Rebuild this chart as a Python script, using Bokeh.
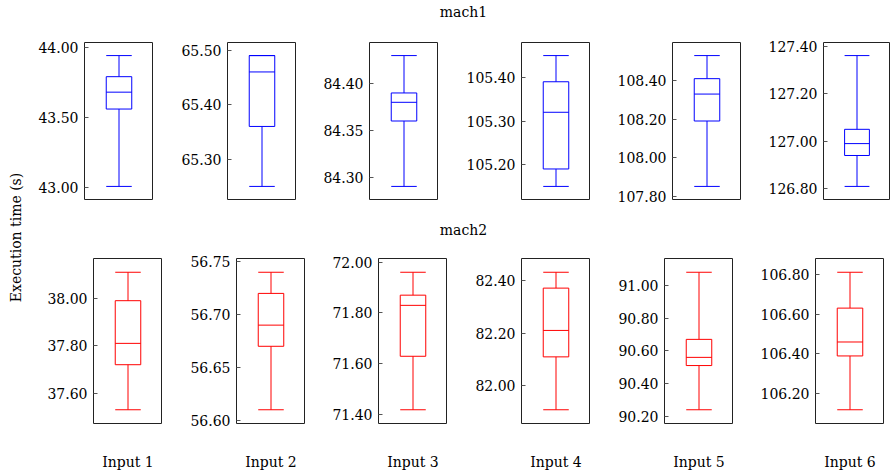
from bokeh.plotting import figure
from bokeh.layouts import row, column
from bokeh.models import (Range1d, FactorRange, FixedTicker, PrintfTickFormatter,
                          ColumnDataSource, Title, Spacer)
from bokeh.transform import dodge
from bokeh.embed import file_html
from bokeh.resources import INLINE

# ---------------- data ----------------
inputs = ["Input 1", "Input 2", "Input 3", "Input 4", "Input 5", "Input 6"]
machines = ["mach1", "mach2"]
y_label = "Execution time (s)"

mach1_lower = [43.01, 65.25, 84.29, 105.15, 107.85, 126.81]
mach1_q1 = [43.56, 65.36, 84.36, 105.19, 108.19, 126.94]
mach1_median = [43.68, 65.46, 84.38, 105.32, 108.33, 126.99]
mach1_q3 = [43.79, 65.49, 84.39, 105.39, 108.41, 127.05]
mach1_upper = [43.94, 65.49, 84.43, 105.45, 108.53, 127.36]

mach2_lower = [37.53, 56.61, 71.42, 81.91, 90.24, 106.12]
mach2_q1 = [37.72, 56.67, 71.63, 82.11, 90.51, 106.39]
mach2_median = [37.81, 56.69, 71.83, 82.21, 90.56, 106.46]
mach2_q3 = [37.99, 56.72, 71.87, 82.37, 90.67, 106.63]
mach2_upper = [38.11, 56.74, 71.96, 82.43, 91.08, 106.81]

mach1_ticks = [[43.0, 43.5, 44.0], [65.3, 65.4, 65.5], [84.30, 84.35, 84.40],
               [105.2, 105.3, 105.4], [107.8, 108.0, 108.2, 108.4],
               [126.8, 127.0, 127.2, 127.4]]
mach2_ticks = [[37.6, 37.8, 38.0], [56.60, 56.65, 56.70, 56.75],
               [71.4, 71.6, 71.8, 72.0], [82.0, 82.2, 82.4],
               [90.2, 90.4, 90.6, 90.8, 91.0], [106.2, 106.4, 106.6, 106.8]]

# ---------------- style / layout ----------------
FONT = "DejaVu Serif"
FS = "14px"
BOX_W = 0.37
FRAME_W, FRAME_H = 69, 165
PAGE_X0, PAGE_Y0, PAGE_RIGHT = 0, 0, 890
YLAB_W = 30
TOP_PAD = 1
H_HEAD1, H_TOP, H_HEAD2, H_BOT = 22, 196, 22, 233
TOTAL_H = TOP_PAD + H_HEAD1 + H_TOP + H_HEAD2 + H_BOT

top_frame_left = [84, 227, 369, 521, 672, 823]
top_frame_top = [42, 42, 42, 42, 34, 42]
bot_frame_left = [93, 236, 378, 521, 664, 815]
bot_frame_top = [258, 258, 258, 258, 258, 258]

COLORS = {"mach1": "#0000ff", "mach2": "#ff0000"}
FRAME_COLOR = "#222222"


def panel(factor, lo, q1, med, q3, hi, ticks, color, x_start, frame_left,
          y_start, frame_top, fig_h, show_x):
    fw = min(FRAME_W, PAGE_RIGHT - frame_left)
    left = frame_left - x_start
    top = frame_top - y_start
    bottom = fig_h - top - FRAME_H
    pad = 0.1 * (hi - lo)
    p = figure(x_range=FactorRange(factors=[factor], range_padding=0),
               y_range=Range1d(lo - pad, hi + pad),
               width=left + fw, height=fig_h, title=None,
               toolbar_location=None, output_backend="svg",
               min_border_left=left, min_border_right=0,
               min_border_top=top, min_border_bottom=bottom,
               x_axis_location="below" if show_x else None)
    p.grid.visible = False
    p.outline_line_color = FRAME_COLOR
    p.outline_line_width = 1
    p.background_fill_color = "white"
    p.border_fill_color = "white"

    src = ColumnDataSource(dict(x=[factor], lo=[lo], q1=[q1], med=[med],
                                q3=[q3], hi=[hi]))
    # whisker stems
    p.segment(x0="x", y0="q3", x1="x", y1="hi", source=src, line_color=color, line_width=1)
    p.segment(x0="x", y0="lo", x1="x", y1="q1", source=src, line_color=color, line_width=1)
    # caps
    xl = dodge("x", -BOX_W / 2, range=p.x_range)
    xr = dodge("x", BOX_W / 2, range=p.x_range)
    p.segment(x0=xl, y0="hi", x1=xr, y1="hi", source=src, line_color=color, line_width=1)
    p.segment(x0=xl, y0="lo", x1=xr, y1="lo", source=src, line_color=color, line_width=1)
    # box
    p.vbar(x="x", width=BOX_W, bottom="q1", top="q3", source=src,
           fill_color=None, line_color=color, line_width=1)
    # median
    p.segment(x0=xl, y0="med", x1=xr, y1="med", source=src, line_color=color, line_width=1)

    ya = p.yaxis[0]
    ya.ticker = FixedTicker(ticks=ticks, minor_ticks=[])
    ya.formatter = PrintfTickFormatter(format="%.2f")
    ya.axis_line_color = None
    ya.major_tick_in = 4
    ya.major_tick_out = 0
    ya.major_tick_line_color = "#555555"
    ya.minor_tick_line_color = None
    ya.major_label_standoff = 6
    ya.major_label_text_font = FONT
    ya.major_label_text_font_size = FS
    ya.major_label_text_color = "black"

    if show_x:
        xa = p.xaxis[0]
        xa.axis_line_color = None
        xa.major_tick_line_color = None
        xa.minor_tick_line_color = None
        xa.major_tick_in = 0
        xa.major_tick_out = 0
        xa.major_label_standoff = 30
        xa.major_label_text_font = FONT
        xa.major_label_text_font_size = FS
        xa.major_label_text_color = "black"
    return p, frame_left + fw


def header(text, h):
    hf = figure(width=PAGE_RIGHT - PAGE_X0 - YLAB_W, height=h,
                x_range=Range1d(0, 1), y_range=Range1d(0, 1),
                toolbar_location=None, output_backend="svg",
                x_axis_location=None, y_axis_location=None,
                min_border_left=6, min_border_right=0,
                min_border_top=0, min_border_bottom=0,
                title=Title(text=text, align="center", text_font=FONT,
                            text_font_size=FS, text_font_style="normal",
                            text_color="black", standoff=0))
    hf.outline_line_color = None
    hf.grid.visible = False
    return hf


# ----- top row -----
x_start = PAGE_X0 + YLAB_W
y_top = PAGE_Y0 + TOP_PAD + H_HEAD1
top_figs = []
for i, f in enumerate(inputs):
    p, x_start = panel(f, mach1_lower[i], mach1_q1[i], mach1_median[i], mach1_q3[i],
                       mach1_upper[i], mach1_ticks[i], COLORS["mach1"], x_start,
                       top_frame_left[i], y_top, top_frame_top[i], H_TOP, False)
    top_figs.append(p)

# ----- bottom row -----
x_start = PAGE_X0 + YLAB_W
y_bot = PAGE_Y0 + TOP_PAD + H_HEAD1 + H_TOP + H_HEAD2
bot_figs = []
for i, f in enumerate(inputs):
    p, x_start = panel(f, mach2_lower[i], mach2_q1[i], mach2_median[i], mach2_q3[i],
                       mach2_upper[i], mach2_ticks[i], COLORS["mach2"], x_start,
                       bot_frame_left[i], y_bot, bot_frame_top[i], H_BOT, True)
    bot_figs.append(p)

# ----- y label figure -----
yl = figure(width=YLAB_W, height=TOTAL_H, x_range=Range1d(0, 1), y_range=Range1d(0, 1),
            toolbar_location=None, output_backend="svg", title=None,
            x_axis_location=None, min_border_left=23, min_border_right=0,
            min_border_top=0, min_border_bottom=0)
yl.outline_line_color = None
yl.grid.visible = False
ax = yl.yaxis[0]
ax.ticker = FixedTicker(ticks=[])
ax.axis_line_color = None
ax.major_tick_line_color = None
ax.minor_tick_line_color = None
ax.major_tick_out = 0
ax.major_tick_in = 0
ax.major_label_standoff = 0
ax.axis_label = y_label
ax.axis_label_standoff = 0
ax.axis_label_text_font = FONT
ax.axis_label_text_font_size = FS
ax.axis_label_text_font_style = "normal"
ax.axis_label_text_color = "black"

h1 = header(machines[0], H_HEAD1)
h2 = header(machines[1], H_HEAD2)

layout = row(yl, column(Spacer(width=10, height=TOP_PAD), h1,
                        row(*top_figs, spacing=0), h2,
                        row(*bot_figs, spacing=0), spacing=0), spacing=0)

open("out.html", "w").write(file_html(layout, INLINE))
